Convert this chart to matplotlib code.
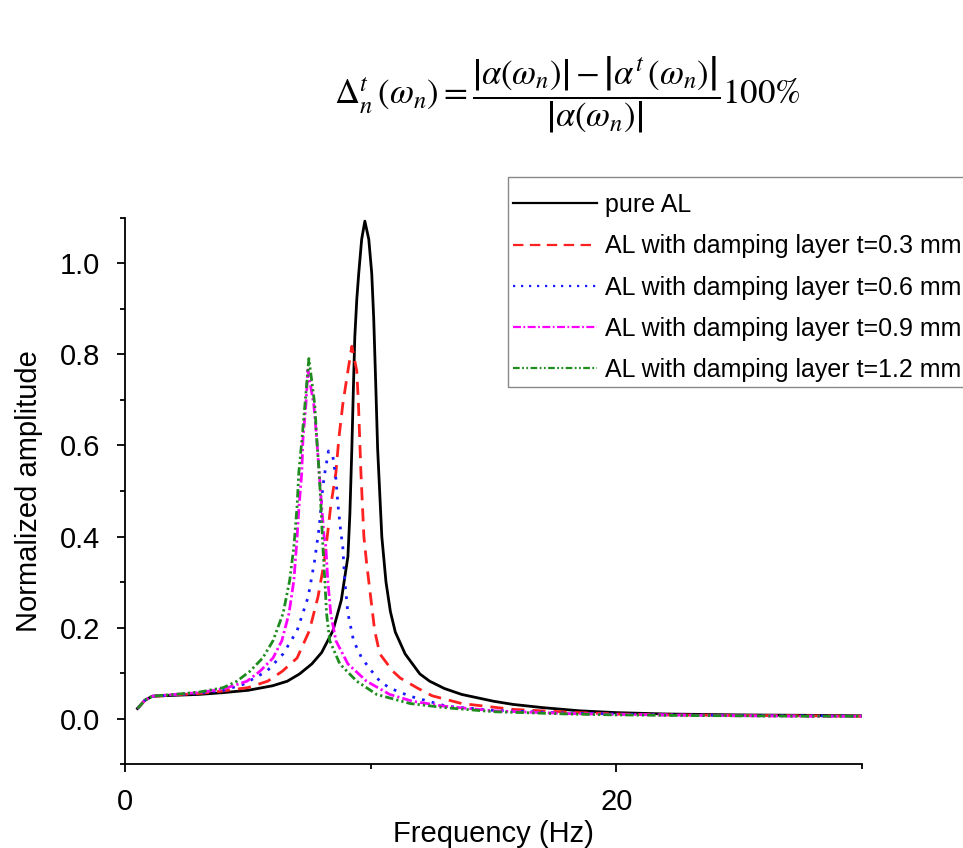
import matplotlib
matplotlib.use("Agg")
import matplotlib.pyplot as plt
from matplotlib.patches import Rectangle
from matplotlib.ticker import MultipleLocator, FormatStrFormatter

plt.rcParams['font.family'] = ['Liberation Sans', 'DejaVu Sans']
plt.rcParams['mathtext.fontset'] = 'stix'

# values (frequency in Hz, normalized amplitude)
pure_f = [0.5, 0.8, 1.1, 1.5, 2, 3, 4, 5, 6, 6.6, 7.1, 7.6, 8.0, 8.46, 8.8, 9.07, 9.15,
          9.23, 9.29, 9.35, 9.43, 9.51, 9.63, 9.76, 9.92, 10.04, 10.12, 10.2, 10.28,
          10.45, 10.62, 10.8, 11.0, 11.4, 12.0, 12.4, 13.0, 13.7, 15.0, 15.8, 17.0, 18.5,
          20, 22, 25, 28, 30]
pure_a = [0.022, 0.040, 0.049, 0.050, 0.051, 0.053, 0.057, 0.062, 0.072, 0.082, 0.098,
          0.120, 0.145, 0.193, 0.26, 0.356, 0.45, 0.593, 0.72, 0.838, 0.92, 0.978, 1.053,
          1.093, 1.053, 0.978, 0.880, 0.74, 0.593, 0.40, 0.30, 0.235, 0.19, 0.142, 0.098,
          0.082, 0.066, 0.053, 0.038, 0.031, 0.024, 0.017, 0.013, 0.010, 0.008, 0.007, 0.006]

t03_f = [0.5, 0.8, 1.1, 1.5, 2, 3, 3.9, 5.0, 5.8, 6.4, 7.0, 7.5, 7.85, 8.1, 8.25, 8.37,
         8.58, 8.7, 8.86, 9.07, 9.23, 9.43, 9.5, 9.6, 9.72, 9.83, 10.16, 10.37, 10.9,
         11.2, 11.9, 12.5, 13.7, 15.8, 18.5, 20, 22, 25, 28, 30]
t03_a = [0.022, 0.040, 0.049, 0.050, 0.052, 0.055, 0.060, 0.068, 0.082, 0.104, 0.133,
         0.193, 0.267, 0.342, 0.41, 0.467, 0.54, 0.615, 0.69, 0.764, 0.818, 0.764, 0.69,
         0.54, 0.40, 0.342, 0.193, 0.142, 0.104, 0.089, 0.067, 0.050, 0.033, 0.020,
         0.013, 0.010, 0.008, 0.007, 0.006, 0.005]

t06_f = [0.5, 0.8, 1.1, 1.5, 2, 3, 4, 4.8, 5.77, 6.43, 7.0, 7.45, 7.7, 7.9, 8.05, 8.13,
         8.28, 8.46, 8.58, 8.67, 8.78, 8.86, 8.94, 9.07, 9.3, 9.63, 10.04, 10.37, 10.77,
         11.6, 13.1, 15, 18, 20, 22, 25, 28, 30]
t06_a = [0.022, 0.040, 0.049, 0.050, 0.052, 0.056, 0.062, 0.075, 0.104, 0.142, 0.193,
         0.267, 0.342, 0.42, 0.51, 0.54, 0.588, 0.575, 0.527, 0.467, 0.41, 0.378, 0.304,
         0.231, 0.171, 0.133, 0.104, 0.082, 0.067, 0.049, 0.027, 0.018, 0.012, 0.010,
         0.008, 0.007, 0.006, 0.005]

t09_f = [0.5, 0.8, 1.1, 1.5, 2, 3, 4, 4.96, 5.49, 6.02, 6.38, 6.67, 6.87, 6.99, 7.08,
         7.19, 7.24, 7.36, 7.44, 7.68, 7.8, 7.9, 8.0, 8.1, 8.17, 8.25, 8.37, 8.58, 9.07,
         9.83, 10.77, 11.7, 13, 15, 18, 20, 22, 25, 28, 30]
t09_a = [0.022, 0.040, 0.049, 0.051, 0.053, 0.057, 0.065, 0.082, 0.104, 0.133, 0.171,
         0.231, 0.304, 0.39, 0.467, 0.54, 0.615, 0.69, 0.766, 0.69, 0.615, 0.54, 0.467,
         0.40, 0.378, 0.304, 0.231, 0.171, 0.12, 0.082, 0.053, 0.038, 0.027, 0.017,
         0.011, 0.009, 0.008, 0.006, 0.005, 0.005]

t12_f = [0.5, 0.8, 1.1, 1.5, 2, 3, 4, 4.55, 5.08, 5.6, 6.02, 6.43, 6.7, 6.87, 7.0, 7.07,
         7.2, 7.32, 7.48, 7.72, 7.8, 7.9, 7.97, 8.05, 8.13, 8.2, 8.33, 8.74, 9.43, 10.24,
         11.6, 13, 15, 18, 20, 22, 25, 28, 30]
t12_a = [0.022, 0.040, 0.049, 0.051, 0.053, 0.058, 0.068, 0.082, 0.104, 0.133, 0.171,
         0.231, 0.304, 0.378, 0.467, 0.54, 0.615, 0.69, 0.791, 0.69, 0.615, 0.54, 0.467,
         0.378, 0.304, 0.231, 0.171, 0.12, 0.082, 0.053, 0.033, 0.024, 0.015, 0.010,
         0.008, 0.007, 0.006, 0.005, 0.005]

labels = ['pure AL',
          'AL with damping layer t=0.3 mm',
          'AL with damping layer t=0.6 mm',
          'AL with damping layer t=0.9 mm',
          'AL with damping layer t=1.2 mm']

fig = plt.figure(figsize=(9.63, 8.48), dpi=100)
ax = fig.add_axes([0.130, 0.099, 0.765, 0.644])

lw = 2.0
ax.plot(pure_f, pure_a, color='black', lw=lw, label=labels[0])
ax.plot(t03_f, t03_a, color='#ff2020', lw=lw, linestyle=(0, (4.7, 2.9)), label=labels[1])
ax.plot(t06_f, t06_a, color='#1a1aff', lw=lw, linestyle=(0, (1, 2.6)), label=labels[2])
ax.plot(t09_f, t09_a, color='#ff00ff', lw=lw, linestyle=(0, (3.6, 1.1, 0.8, 1.1)), label=labels[3])
ax.plot(t12_f, t12_a, color='#1e8c1e', lw=lw,
        linestyle=(0, (3, 1.1, 0.8, 1.1, 0.8, 1.1)), label=labels[4])

ax.set_xlim(0, 30)
ax.set_ylim(-0.1, 1.1)
ax.xaxis.set_major_locator(MultipleLocator(20))
ax.xaxis.set_minor_locator(MultipleLocator(10))
ax.yaxis.set_major_locator(MultipleLocator(0.2))
ax.yaxis.set_minor_locator(MultipleLocator(0.1))
ax.yaxis.set_major_formatter(FormatStrFormatter('%.1f'))

# only left and bottom axis lines, ticks pointing out
ax.spines['top'].set_visible(False)
ax.spines['right'].set_visible(False)
for side in ['left', 'bottom']:
    ax.spines[side].set_linewidth(1.3)
ax.tick_params(which='major', direction='out', length=6, width=1.3, labelsize=21)
ax.tick_params(axis='y', which='major', pad=12)
ax.tick_params(axis='x', which='major', pad=11)
ax.tick_params(which='minor', direction='out', length=3.6, width=1.3)

ax.set_xlabel('Frequency (Hz)', fontsize=21, labelpad=3)
ax.set_ylabel('Normalized amplitude', fontsize=21, labelpad=12)

# legend without its own frame, the box is drawn separately
leg = fig.legend(loc='upper left', bbox_to_anchor=(513 / 963, 1 - 193 / 848), fontsize=18,
                 handlelength=3.36, labelspacing=0.69, borderpad=0, handletextpad=0.32,
                 borderaxespad=0, frameon=False)
for line in leg.get_lines():
    line.set_linewidth(1.6)
fig.patches.append(Rectangle((508 / 963, 1 - 387 / 848), 0.6, 210 / 848,
                             transform=fig.transFigure, fill=False,
                             edgecolor='#888888', linewidth=1.0))

# formula on top
fig.text(0.589, 0.889,
         r'$\Delta_n^t\,(\omega_n) = \dfrac{\left|\alpha(\omega_n)\right| - \left|\alpha^t\,(\omega_n)\right|}'
         r'{\left|\alpha(\omega_n)\right|}\mathrm{100\%}$',
         fontsize=25, ha='center', va='center')

fig.savefig('out.png', dpi=100)
